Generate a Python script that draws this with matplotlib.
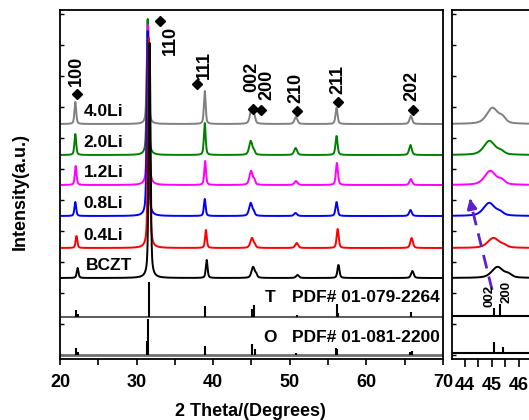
import numpy as np
import matplotlib.pyplot as plt
from matplotlib.ticker import MultipleLocator

plt.rcParams['font.family'] = ['Liberation Sans', 'DejaVu Sans']
plt.rcParams['font.weight'] = 'bold'

# samples, top to bottom
samples = ['4.0Li', '2.0Li', '1.2Li', '0.8Li', '0.4Li', 'BCZT']
colors = ['#808080', '#008000', '#ff00ff', '#0000ff', '#ff0000', '#000000']
offsets = [235, 204, 174, 143, 111, 81]

# reflections and peak widths (deg)
hkl = ['100', '110', '111', '002', '200', '210', '211', '202']
fwhm = [0.27, 0.28, 0.27, 0.5, 0.3, 0.45, 0.32, 0.4]

# peak positions (2theta) per sample
peak_pos = [
    [22.0, 31.45, 38.9, 45.02, 45.40, 50.8, 56.1, 65.8],
    [22.0, 31.45, 38.9, 44.91, 45.34, 50.75, 56.1, 65.75],
    [22.05, 31.5, 38.95, 44.94, 45.37, 50.8, 56.15, 65.8],
    [22.0, 31.45, 38.9, 44.90, 45.31, 50.75, 56.1, 65.75],
    [22.15, 31.6, 39.05, 45.06, 45.45, 50.9, 56.25, 65.9],
    [22.3, 31.7, 39.15, 45.21, 45.62, 51.0, 56.35, 66.0],
]
# peak heights (a.u.)
peak_h = [
    [22, 104, 33, 16, 5, 7, 16, 8],
    [21, 136, 32, 14, 3, 7, 19, 10],
    [19, 160, 24, 14, 4, 4, 22, 6],
    [14, 185, 17, 13, 3, 3, 14, 6],
    [12, 210, 18, 10, 2, 5, 19, 10],
    [10, 235, 18, 11, 3, 3, 13, 7],
]

# standard patterns
T_pos = [22.09, 22.3, 31.6, 38.93, 45.09, 45.31, 50.9, 56.12, 56.25, 65.82]
T_h = [7, 3, 35, 11, 8, 12, 2, 13, 4, 5]
O_pos = [22.09, 22.3, 31.35, 31.45, 38.9, 45.09, 45.42, 50.85, 56.0, 56.15, 65.7, 65.9]
O_h = [7, 3, 14, 36, 9, 11, 6, 2, 7, 6, 3, 4]

# hkl marks: diamond (x, y), label (x, y)
mark_xy = [(22.18, 264.5), (33.05, 338), (37.85, 275), (45.16, 250),
           (46.24, 249), (50.9, 248), (56.33, 257), (66.04, 249)]
label_xy = [(22.1, 273), (34.45, 333), (38.8, 280), (45.0, 267),
            (47.0, 259), (50.77, 256), (56.33, 265), (65.9, 258)]


def pv(x, x0, h, w, eta=0.5):
    g = np.exp(-4 * np.log(2) * ((x - x0) / w) ** 2)
    l = 1 / (1 + 4 * ((x - x0) / w) ** 2)
    return h * (eta * l + (1 - eta) * g)


x = np.linspace(20, 70, 10001)

fig = plt.figure(figsize=(5.29, 4.2), dpi=100)
ax = fig.add_axes([60 / 529, 61 / 420, 383 / 529, 349 / 420])
ax2 = fig.add_axes([452 / 529, 61 / 420, 100 / 529, 349 / 420])

for i in range(len(samples)):
    y = np.full_like(x, offsets[i], dtype=float)
    for j in range(len(hkl)):
        y += pv(x, peak_pos[i][j], peak_h[i][j], fwhm[j])
    ax.plot(x, y, color=colors[i], lw=1.4)
    ax2.plot(x, y, color=colors[i], lw=1.4)
    ax.text(23.4 if samples[i] == 'BCZT' else 23.1, offsets[i] + 12, samples[i],
            fontsize=12.5, fontweight='bold', va='center', ha='left')

# standard sticks, main panel
ax.axhline(42, color='#606060', lw=1.5)
ax.axhline(4, color='#707070', lw=2)
ax.vlines(T_pos, 42, 42 + np.array(T_h), color='k', lw=1.5)
ax.vlines(O_pos, 4, 4 + np.array(O_h), color='k', lw=1.5)
ax.text(47.4, 61, 'T', fontsize=12.5, fontweight='bold', ha='center', va='center')
ax.text(50.3, 61, 'PDF# 01-079-2264', fontsize=12.5, fontweight='bold', ha='left', va='center')
ax.text(47.4, 22, 'O', fontsize=12.5, fontweight='bold', ha='center', va='center')
ax.text(50.3, 22, 'PDF# 01-081-2200', fontsize=12.5, fontweight='bold', ha='left', va='center')

# hkl labels
for k in range(len(hkl)):
    ax.plot(*mark_xy[k], marker='D', color='k', ms=5.5)
    ax.text(label_xy[k][0], label_xy[k][1], hkl[k], rotation=90, fontsize=13,
            fontweight='bold', ha='center', va='top' if hkl[k] == '110' else 'bottom')

# standard sticks, zoom panel
ax2.axhline(43, color='k', lw=1.5)
ax2.axhline(6, color='k', lw=1.5)
ax2.vlines(T_pos, 43, 43 + np.array(T_h), color='k', lw=1.5)
ax2.vlines(O_pos, 6, 6 + np.array(O_h), color='k', lw=1.5)
ax2.text(44.9, 52, '002', rotation=90, fontsize=9.5, fontweight='bold', ha='center', va='bottom')
ax2.text(45.54, 56, '200', rotation=90, fontsize=9.5, fontweight='bold', ha='center', va='bottom')

# shift arrow
arrow_tail = (45.01, 69)
arrow_tip = (44.16, 163)
ax2.plot([arrow_tail[0], 44.22], [arrow_tail[1], 155], color='#5a22c8', lw=2,
         ls=(0, (5, 3)))
ax2.annotate('', xy=arrow_tip, xytext=(44.22, 155),
             arrowprops=dict(arrowstyle='-|>', color='#5a22c8', lw=2, mutation_scale=14))

ax.set_xlim(20, 70)
ax.set_ylim(0, 349)
ax.xaxis.set_major_locator(MultipleLocator(10))
ax.xaxis.set_minor_locator(MultipleLocator(5))
ax2.set_xlim(43.51, 47.25)
ax2.set_ylim(0, 349)
ax2.set_xticks([44, 45, 46])
ax2.xaxis.set_minor_locator(MultipleLocator(0.5))

for a in (ax, ax2):
    a.set_yticks(np.arange(4, 349, 31))
    a.set_yticklabels([])
    a.tick_params(axis='y', direction='in', length=3, width=1)
    a.tick_params(axis='x', which='both', direction='out', length=4, width=1.2,
                  labelsize=13, pad=7)
    for lab in a.get_xticklabels():
        lab.set_fontweight('bold')
    for s in a.spines.values():
        s.set_linewidth(1.3)
ax2.tick_params(axis='x', which='both', length=6)

fig.text(0.038, 0.543, 'Intensity(a.u.)', rotation=90, fontsize=13,
         fontweight='bold', ha='center', va='center')
fig.text(0.474, 0.02, '2 Theta/(Degrees)', fontsize=13, fontweight='bold',
         ha='center', va='center')

fig.savefig('out.png', dpi=100)
